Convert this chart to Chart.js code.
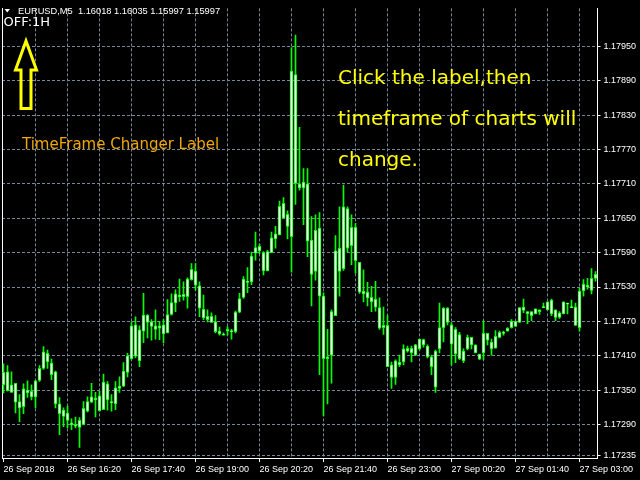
<!DOCTYPE html>
<html><head><meta charset="utf-8">
<script src="https://cdn.jsdelivr.net/npm/chart.js@4/dist/chart.umd.min.js"></script>
<style>html,body{margin:0;padding:0;background:#000;overflow:hidden}canvas{display:block;background:#000}</style>
</head><body>
<canvas id="c" width="640" height="480"></canvas>
<script>
const opens=[1.17359,1.17382,1.17346,1.17362,1.17330,1.17321,1.17350,1.17348,1.17338,1.17367,
1.17388,1.17414,1.17397,1.17382,1.17326,1.17304,1.17310,1.17293,1.17290,1.17285,
1.17290,1.17313,1.17329,1.17336,1.17340,1.17316,1.17361,1.17330,1.17326,1.17353,
1.17357,1.17381,1.17405,1.17464,1.17401,1.17453,1.17481,1.17469,1.17462,1.17458,
1.17464,1.17450,1.17482,1.17502,1.17516,1.17513,1.17513,1.17543,1.17558,1.17532,
1.17491,1.17479,1.17479,1.17469,1.17453,1.17448,1.17453,1.17454,1.17452,1.17486,
1.17512,1.17540,1.17539,1.17589,1.17601,1.17590,1.17558,1.17590,1.17614,1.17621,
1.17676,1.17657,1.17618,1.17901,1.17710,1.17703,1.17710,1.17612,1.17557,1.17633,
1.17514,1.17405,1.17411,1.17480,1.17598,1.17562,1.17667,1.17602,1.17634,1.17573,
1.17523,1.17521,1.17512,1.17509,1.17494,1.17459,1.17463,1.17394,1.17372,1.17399,
1.17399,1.17423,1.17415,1.17429,1.17422,1.17438,1.17427,1.17408,1.17418,1.17422,
1.17459,1.17493,1.17464,1.17413,1.17447,1.17401,1.17422,1.17442,1.17429,1.17413,
1.17415,1.17449,1.17434,1.17423,1.17442,1.17450,1.17453,1.17459,1.17470,1.17468,
1.17495,1.17487,1.17480,1.17483,1.17490,1.17494,1.17490,1.17507,1.17477,1.17485,
1.17483,1.17502,1.17495,1.17495,1.17459,1.17523,1.17533,1.17524,1.17545];
const highs=[1.17396,1.17393,1.17382,1.17362,1.17342,1.17361,1.17366,1.17359,1.17367,1.17393,
1.17426,1.17420,1.17404,1.17383,1.17337,1.17319,1.17322,1.17300,1.17303,1.17302,
1.17330,1.17338,1.17362,1.17346,1.17348,1.17378,1.17365,1.17342,1.17365,1.17373,
1.17398,1.17414,1.17469,1.17478,1.17462,1.17519,1.17482,1.17473,1.17490,1.17470,
1.17473,1.17508,1.17518,1.17525,1.17544,1.17539,1.17546,1.17571,1.17571,1.17539,
1.17516,1.17490,1.17485,1.17480,1.17460,1.17450,1.17461,1.17456,1.17488,1.17519,
1.17548,1.17564,1.17591,1.17626,1.17605,1.17592,1.17594,1.17626,1.17636,1.17680,
1.17686,1.17663,1.17948,1.17970,1.17809,1.17737,1.17737,1.17653,1.17656,1.17660,
1.17520,1.17456,1.17490,1.17620,1.17670,1.17708,1.17670,1.17656,1.17641,1.17573,
1.17560,1.17538,1.17531,1.17540,1.17511,1.17495,1.17480,1.17399,1.17403,1.17411,
1.17429,1.17427,1.17427,1.17430,1.17439,1.17439,1.17429,1.17411,1.17420,1.17502,
1.17494,1.17494,1.17468,1.17459,1.17451,1.17422,1.17446,1.17442,1.17429,1.17413,
1.17471,1.17449,1.17439,1.17454,1.17453,1.17453,1.17459,1.17473,1.17470,1.17494,
1.17509,1.17487,1.17487,1.17492,1.17490,1.17502,1.17504,1.17509,1.17490,1.17487,
1.17504,1.17502,1.17507,1.17502,1.17528,1.17543,1.17545,1.17562,1.17557];
const lows=[1.17345,1.17348,1.17346,1.17310,1.17295,1.17309,1.17337,1.17333,1.17319,1.17365,
1.17386,1.17388,1.17368,1.17319,1.17272,1.17286,1.17284,1.17281,1.17284,1.17250,
1.17289,1.17312,1.17328,1.17303,1.17313,1.17316,1.17315,1.17313,1.17316,1.17346,
1.17356,1.17373,1.17404,1.17406,1.17391,1.17433,1.17441,1.17437,1.17439,1.17438,
1.17433,1.17450,1.17481,1.17487,1.17505,1.17507,1.17493,1.17542,1.17525,1.17478,
1.17473,1.17469,1.17468,1.17450,1.17446,1.17446,1.17446,1.17439,1.17450,1.17485,
1.17510,1.17520,1.17534,1.17577,1.17588,1.17551,1.17558,1.17590,1.17598,1.17621,
1.17650,1.17614,1.17556,1.17674,1.17699,1.17639,1.17583,1.17497,1.17542,1.17377,
1.17305,1.17326,1.17362,1.17480,1.17514,1.17559,1.17591,1.17569,1.17554,1.17519,
1.17504,1.17497,1.17487,1.17488,1.17456,1.17447,1.17391,1.17353,1.17360,1.17391,
1.17394,1.17416,1.17399,1.17410,1.17420,1.17425,1.17406,1.17377,1.17346,1.17415,
1.17434,1.17464,1.17394,1.17398,1.17403,1.17398,1.17420,1.17422,1.17415,1.17403,
1.17403,1.17429,1.17411,1.17423,1.17441,1.17446,1.17453,1.17458,1.17461,1.17468,
1.17485,1.17466,1.17471,1.17483,1.17482,1.17494,1.17490,1.17480,1.17471,1.17475,
1.17483,1.17483,1.17494,1.17463,1.17453,1.17514,1.17526,1.17518,1.17540];
const closes=[1.17381,1.17349,1.17359,1.17329,1.17319,1.17352,1.17345,1.17338,1.17366,1.17388,
1.17417,1.17399,1.17377,1.17326,1.17309,1.17315,1.17297,1.17289,1.17287,1.17297,
1.17318,1.17330,1.17338,1.17333,1.17314,1.17364,1.17333,1.17328,1.17354,1.17357,
1.17383,1.17410,1.17462,1.17409,1.17455,1.17481,1.17468,1.17461,1.17456,1.17462,
1.17448,1.17482,1.17503,1.17518,1.17513,1.17517,1.17544,1.17561,1.17533,1.17493,
1.17476,1.17473,1.17468,1.17452,1.17448,1.17446,1.17456,1.17452,1.17486,1.17510,
1.17544,1.17538,1.17584,1.17599,1.17593,1.17558,1.17592,1.17616,1.17623,1.17671,
1.17650,1.17636,1.17907,1.17711,1.17703,1.17713,1.17610,1.17552,1.17629,1.17514,
1.17405,1.17408,1.17487,1.17593,1.17557,1.17670,1.17598,1.17634,1.17576,1.17521,
1.17518,1.17511,1.17504,1.17495,1.17458,1.17463,1.17391,1.17372,1.17401,1.17394,
1.17422,1.17418,1.17423,1.17411,1.17439,1.17429,1.17408,1.17391,1.17355,1.17459,
1.17493,1.17468,1.17430,1.17456,1.17405,1.17418,1.17442,1.17429,1.17415,1.17404,
1.17449,1.17437,1.17422,1.17444,1.17451,1.17449,1.17458,1.17470,1.17461,1.17494,
1.17489,1.17483,1.17487,1.17492,1.17487,1.17495,1.17504,1.17483,1.17490,1.17477,
1.17504,1.17500,1.17494,1.17463,1.17523,1.17535,1.17530,1.17545,1.17552];
const yTicks=[1.17950,1.17890,1.17830,1.17770,1.17710,1.17650,1.17590,1.17530,1.17470,1.17410,1.17350,1.17290,1.17235];
const timeLabels=['26 Sep 2018','26 Sep 16:20','26 Sep 17:40','26 Sep 19:00','26 Sep 20:20','26 Sep 21:40','26 Sep 23:00','27 Sep 00:20','27 Sep 01:40','27 Sep 03:00'];
const headerText='EURUSD,M5  1.16018 1.16035 1.15997 1.15997';
const modeText='OFF:1H';
const labelText='TimeFrame Changer Label';
const noteLines=['Click the label,then','timeframe of charts will','change.'];

const LABEL_EVERY=16, GRID_EVERY=8;
const GRID='#778899', UP='#00ff00', BODY='#ffffff', CLEAR='rgba(0,0,0,0)';
const idx=opens.map((_,i)=>i);
const bodies=idx.map(i=>({x:i,y:[opens[i],closes[i]]}));
const wicks=idx.map(i=>({x:i,y:[lows[i],highs[i]]}));

const overlay={id:'overlay',afterDraw(chart){
  const ctx=chart.ctx;ctx.save();
  ctx.fillStyle='#ffffff';
  ctx.beginPath();ctx.moveTo(4.5,9);ctx.lineTo(10,9);ctx.lineTo(7.25,12.5);ctx.closePath();ctx.fill();
  ctx.textBaseline='alphabetic';ctx.textAlign='left';
  ctx.font='9.3px "Liberation Sans"';ctx.fillText(headerText,18,13.5);
  ctx.font='13px "DejaVu Sans"';ctx.fillText(modeText,3.5,26);
  ctx.strokeStyle='#ffff00';ctx.lineWidth=3;ctx.lineJoin='miter';
  ctx.beginPath();ctx.moveTo(26,41);ctx.lineTo(36.5,70);ctx.lineTo(31,70);ctx.lineTo(31,108.5);
  ctx.lineTo(21,108.5);ctx.lineTo(21,70);ctx.lineTo(15.5,70);ctx.closePath();ctx.stroke();
  ctx.fillStyle='#f0a800';ctx.font='15px "DejaVu Sans"';ctx.fillText(labelText,22,149);
  ctx.fillStyle='#ffff00';ctx.font='20px "DejaVu Sans"';
  noteLines.forEach((t,i)=>ctx.fillText(t,338,84+i*41));
  ctx.restore();
}};

new Chart(document.getElementById('c'),{
  type:'bar',
  data:{datasets:[
    {data:bodies,backgroundColor:BODY,borderColor:UP,borderWidth:1,borderSkipped:false,barThickness:3,minBarLength:1,grouped:false},
    {data:wicks,backgroundColor:UP,borderWidth:0,barThickness:1,grouped:false}
  ]},
  options:{
    responsive:false,animation:false,devicePixelRatio:1,
    layout:{padding:0},
    plugins:{legend:{display:false},tooltip:{enabled:false}},
    scales:{
      x:{type:'linear',position:'bottom',min:-0.375,max:148.5,offset:false,
        afterBuildTicks:s=>{const t=[];for(let v=0;v<opens.length;v+=GRID_EVERY)t.push({value:v});s.ticks=t;},
        afterFit:s=>{s.height=22;},
        grid:{offset:false,lineWidth:1,tickLength:4,
          color:c=>(c.tick&&c.tick.value>0&&c.tick.value%GRID_EVERY===0)?GRID:CLEAR,
          tickColor:c=>(c.tick&&c.tick.value%LABEL_EVERY===0)?'#ffffff':CLEAR},
        border:{display:true,color:'#ffffff',width:1,dash:[3,2]},
        ticks:{autoSkip:false,maxRotation:0,minRotation:0,align:'start',padding:2,color:'#ffffff',
          font:{family:'Liberation Sans',size:9},
          callback:v=>(v%LABEL_EVERY===0&&timeLabels[v/LABEL_EVERY])?timeLabels[v/LABEL_EVERY]:''}
      },
      y:{position:'right',min:1.172314,max:1.180165,
        afterBuildTicks:s=>{s.ticks=yTicks.map(v=>({value:v}));},
        afterFit:s=>{s.width=42.5;},
        grid:{color:GRID,lineWidth:1,tickColor:'#ffffff',tickLength:3},
        border:{display:true,color:'#ffffff',width:1,dash:[3,2]},
        ticks:{autoSkip:false,padding:3,color:'#ffffff',font:{family:'Liberation Sans',size:9},
          callback:v=>Number(v).toFixed(5)}
      },
      yL:{position:'left',min:0,max:1,afterFit:s=>{s.width=2;},
        grid:{display:false,drawTicks:false},ticks:{display:false},
        border:{display:true,color:'#ffffff',width:1}}
    }
  },
  plugins:[overlay]
});
</script>
</body></html>
